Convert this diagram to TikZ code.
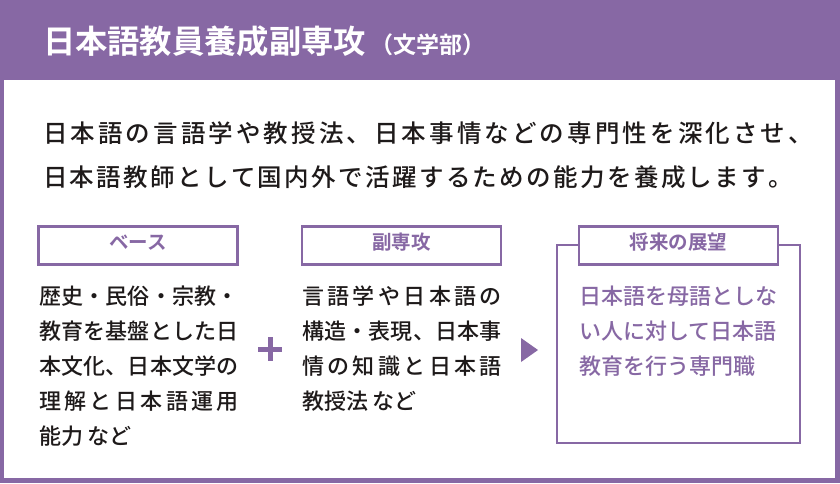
\documentclass[tikz,border=0pt]{standalone}
\usepackage{fontspec}
\setmainfont{Noto Sans CJK JP}[UprightFont=* Medium,BoldFont=* Bold]
\definecolor{pur}{RGB}{135,104,164}
\definecolor{ink}{RGB}{30,26,26}
\makeatletter
\def\spr#1#2{\hbox to #1{\spr@a#2\spr@end}}
\def\spr@a#1#2\spr@end{#1\ifx\relax#2\relax\else\hfil\spr@a#2\spr@end\fi}
\makeatother
\tikzset{
  txt/.style={anchor=base west,inner sep=0pt,outer sep=0pt},
  intro/.style={txt,text=ink,font=\fontsize{24.5}{24.5}\selectfont},
  body/.style={txt,text=ink,font=\fontsize{22}{22}\selectfont},
  ptxt/.style={txt,text=pur,font=\fontsize{22}{22}\selectfont},
  lbl/.style={draw=pur,line width=2.2pt,fill=white,minimum width=199pt,minimum height=38pt,
    inner sep=0pt,text=pur,font=\bfseries\fontsize{19.5}{19.5}\selectfont,text height=0.88em,text depth=0.12em},
  frame/.style={draw=pur,line width=2pt,inner sep=0pt}
}
\begin{document}
\begin{tikzpicture}[x=1pt,y=-1pt]
\useasboundingbox (0,0) rectangle (840,483);
\fill[pur] (0,0) rectangle (840,483);
\fill[white] (4,80) rectangle (835,478);
% title
\node[txt,text=white,font=\bfseries\fontsize{32.3}{32.3}\selectfont] (title) at (43,53.5) {日本語教員養成副専攻};
\node[txt,text=white,font=\bfseries\fontsize{23}{23}\selectfont] (dept) at (370,53.5) {（文学部）};
% intro
\node[intro] (i1) at (43,142) {\spr{770pt}{日本語の言語学や教授法、日本事情などの専門性を深化させ、}};
\node[intro] (i2) at (43,186) {\spr{750pt}{日本語教師として国内外で活躍するための能力を養成します。}};
% column 1
\node[lbl] (base) at (138,245.5) {ベース};
\node[body] (a1) at (39,304.4) {\spr{200pt}{歴史・民俗・宗教・}};
\node[body] (a2) at (39,339.4) {\spr{200pt}{教育を基盤とした日}};
\node[body] (a3) at (39,374.4) {\spr{200pt}{本文化、日本文学の}};
\node[body] (a4) at (39,409.4) {\spr{200pt}{理解と日本語運用}};
\node[body] (a5) at (39,444.4) {能力 など};
% plus
\fill[pur] (258,346.5) rectangle (282,351.5);
\fill[pur] (267.5,337) rectangle (272.5,361);
% column 2
\node[lbl] (minor) at (401.5,245.5) {副専攻};
\node[body] (b1) at (302,304.4) {\spr{200pt}{言語学や日本語の}};
\node[body] (b2) at (302,339.4) {\spr{200pt}{構造・表現、日本事}};
\node[body] (b3) at (302,374.4) {\spr{200pt}{情の知識と日本語}};
\node[body] (b4) at (302,409.4) {教授法 など};
% arrow triangle
\fill[pur] (521,338) -- (538,350) -- (521,362) -- cycle;
% column 3
\node[frame,minimum width=243pt,minimum height=198pt] (fut) at (678.5,344) {};
\node[lbl] (futl) at (678.5,245.5) {将来の展望};
\node[ptxt] (c1) at (579,304.4) {日本語を母語としな};
\node[ptxt] (c2) at (579,339.4) {い人に対して日本語};
\node[ptxt] (c3) at (579,374.4) {教育を行う専門職};
\end{tikzpicture}
\end{document}
